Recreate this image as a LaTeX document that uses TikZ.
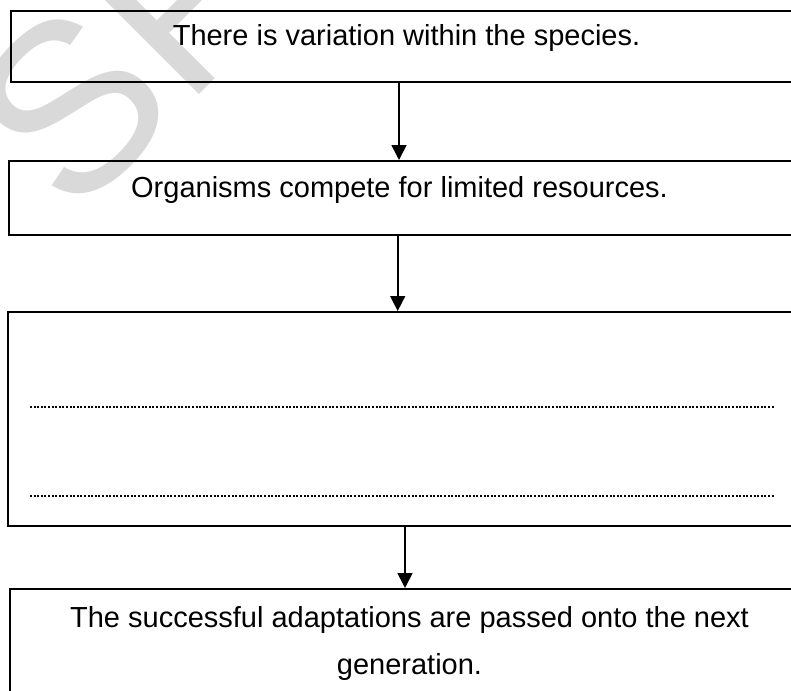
\documentclass[tikz,border=0pt]{standalone}
\usepackage{fontspec}
\setmainfont{Liberation Sans}
\usetikzlibrary{arrows.meta}
\begin{document}
\begin{tikzpicture}[x=1pt,y=-1pt,
  boxstyle/.style={draw=black,line width=1.8pt,rectangle,inner sep=0pt,anchor=north west},
  txt/.style={font=\fontsize{29}{35}\selectfont,inner sep=0pt,anchor=base},
  arr/.style={line width=1.6pt,-{Triangle[width=15pt,length=15pt]}},
  answerline/.style={line width=2pt,dash pattern=on 1.9pt off 1.7pt},
  wm/.style={text=black!15,font=\fontsize{240}{240}\selectfont,inner sep=0pt,anchor=base west,rotate=45}]
\useasboundingbox (0,0) rectangle (791,690);
\clip (0,0) rectangle (791,690);
% watermark
\node[wm] (wmark) at (72,222) {SPECIMEN};
% boxes
\node[boxstyle,minimum width=800pt,minimum height=71pt] (b1) at (10,10) {};
\node[boxstyle,minimum width=800pt,minimum height=74pt] (b2) at (8,160) {};
\node[boxstyle,minimum width=800pt,minimum height=214pt] (b3) at (7,311) {};
\node[boxstyle,minimum width=800pt,minimum height=120pt] (b4) at (9,588) {};
% texts
\node[txt] (t1) at (406.5,46) {There is variation within the species.};
\node[txt] (t2) at (399.5,197) {Organisms compete for limited resources.};
\node[txt] (t4a) at (409.5,627) {The successful adaptations are passed onto the next};
\node[txt] (t4b) at (409.5,674) {generation.};
% answer lines
\coordinate (l1a) at (30,407); \coordinate (l1b) at (775,407);
\coordinate (l2a) at (30,496); \coordinate (l2b) at (775,496);
\draw[answerline] (l1a) -- (l1b);
\draw[answerline] (l2a) -- (l2b);
% arrows
\coordinate (x1) at (399,0);
\coordinate (x2) at (397.7,0);
\coordinate (x3) at (405,0);
\draw[arr] (b1.south -| x1) -- (b2.north -| x1);
\draw[arr] (b2.south -| x2) -- (b3.north -| x2);
\draw[arr] (b3.south -| x3) -- (b4.north -| x3);
\end{tikzpicture}
\end{document}
